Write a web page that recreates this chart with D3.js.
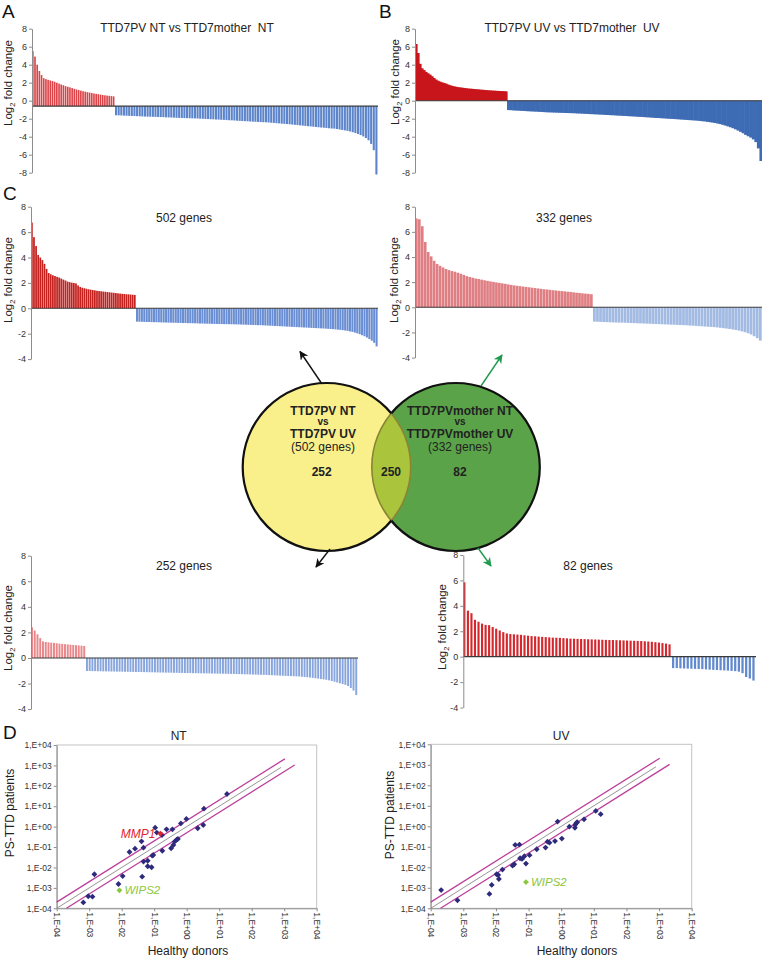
<!DOCTYPE html>
<html><head><meta charset="utf-8">
<script src="https://cdn.jsdelivr.net/npm/d3@7"></script>
<style>
body{margin:0;background:#fff;}
svg{display:block;font-family:"Liberation Sans",Arial,Helvetica,sans-serif;}
</style></head><body>
<svg id="fig" width="762" height="961"></svg>
<script>
// ---------------- DATA ----------------
// Panel A: TTD7PV NT vs TTD7mother NT (log2 fold change, sorted)
const aUp = [5.5,4.9,4.0,3.3,2.85,2.5,2.4,2.32,2.25,2.18,2.1,2.0,1.9,1.8,1.72,1.62,1.55,1.48,1.4,1.32,1.25,1.18,1.12,1.06,1.0,0.95,0.9,0.85,0.8,0.76,0.72,0.68,0.64,0.6,0.57,0.54,0.51,0.48];
const aDown = [-1.62,-1.63,-1.64,-1.66,-1.67,-1.68,-1.7,
 -1.71,-1.72,-1.73,-1.75,-1.76,-1.77,-1.78,-1.79,-1.8,-1.81,-1.82,-1.83,-1.85,
 -1.86,-1.87,-1.88,-1.9,-1.91,-1.92,-1.93,-1.94,-1.95,-1.96,-1.97,-1.98,-2.0,
 -2.01,-2.03,-2.04,-2.06,-2.07,-2.09,-2.1,-2.12,-2.13,-2.15,-2.17,-2.18,
 -2.2,-2.22,-2.24,-2.26,-2.27,-2.29,-2.31,-2.33,-2.34,-2.36,-2.37,-2.39,-2.4,
 -2.42,-2.45,-2.47,-2.5,-2.52,-2.55,-2.57,-2.6,-2.62,-2.65,-2.68,-2.71,-2.74,
 -2.77,-2.8,-2.83,-2.86,-2.89,-2.92,-2.95,-2.98,-3.0,-3.03,-3.06,-3.09,
 -3.1,-3.15,-3.2,-3.25,-3.3,-3.35,-3.42,-3.5,-3.6,-3.7,-3.82,-3.97,-4.15,-4.4,-4.8,-5.5,-8.2];
const aBaseline = -0.6;
// Panel B: TTD7PV UV vs TTD7mother UV
const bUp = [6.3,5.3,4.1,3.6,3.4,3.2,3.05,2.9,2.72,2.52,2.35,2.22,2.12,2.04,1.97,1.9,1.8,1.72,1.65,1.6,1.55,1.51,1.48,1.45,1.42,1.39,1.36,1.34,1.32,1.3,1.28,1.26,1.24,1.22,1.2,1.18,1.16,1.15,1.13,1.12,1.1,1.09,1.08,1.07,1.06,1.04];
const bDown = [-1.04,-1.06,-1.08,-1.1,-1.11,-1.13,-1.14,-1.16,-1.18,-1.19,-1.21,-1.22,-1.24,-1.25,-1.27,-1.29,
 -1.3,-1.31,-1.32,-1.33,-1.34,-1.35,-1.36,-1.37,-1.38,-1.39,-1.4,-1.42,-1.43,
 -1.44,-1.46,-1.47,-1.49,-1.5,-1.52,-1.53,-1.55,-1.56,-1.58,-1.59,-1.61,-1.62,
 -1.64,-1.66,-1.67,-1.69,-1.7,-1.72,-1.74,-1.75,-1.77,-1.79,-1.8,-1.82,-1.84,
 -1.86,-1.88,-1.9,-1.92,-1.93,-1.95,-1.97,-1.99,-2.01,-2.02,-2.04,-2.06,-2.08,
 -2.1,-2.12,-2.14,-2.16,-2.18,-2.2,-2.22,-2.25,-2.28,-2.31,-2.35,-2.39,
 -2.43,-2.48,-2.54,-2.6,-2.68,-2.76,-2.85,-2.95,-3.06,-3.18,-3.32,-3.46,-3.62,-3.8,-3.95,-4.1,-4.3,-4.6,-5.3,-6.7];
// Panel C: 502 genes
const c502Up = [6.75,5.6,4.9,4.2,4.0,3.8,3.5,3.1,2.78,2.68,2.6,2.54,2.48,2.42,2.34,2.26,2.19,2.1,2.06,2.02,1.99,1.96,1.8,1.68,1.62,1.58,1.54,1.5,1.47,1.44,1.41,1.38,1.36,1.34,1.32,1.3,1.28,1.26,1.24,1.22,1.2,1.18,1.16,1.14,1.13,1.11,1.1,1.08,1.07,1.05];
const c502Down = [-1.05,-1.06,-1.06,-1.07,-1.08,-1.08,-1.09,-1.09,-1.1,-1.1,-1.11,-1.12,-1.12,
 -1.13,-1.13,-1.14,-1.14,-1.15,-1.15,-1.16,-1.16,-1.17,-1.17,-1.18,-1.18,-1.19,-1.2,
 -1.2,-1.21,-1.21,-1.22,-1.22,-1.23,-1.23,-1.24,-1.24,-1.25,-1.25,-1.25,-1.26,-1.26,
 -1.27,-1.27,-1.28,-1.29,-1.29,-1.3,-1.31,-1.31,-1.32,-1.33,-1.33,-1.34,-1.35,-1.36,
 -1.37,-1.38,-1.39,-1.4,-1.41,-1.42,-1.43,-1.44,-1.45,-1.46,-1.47,-1.48,-1.49,-1.5,
 -1.51,-1.52,-1.53,-1.54,-1.55,-1.56,-1.57,-1.58,-1.59,-1.6,-1.62,-1.63,-1.64,-1.66,
 -1.68,-1.7,-1.72,-1.75,-1.78,-1.82,-1.86,-1.91,-1.97,-2.04,-2.12,-2.2,-2.3,-2.42,-2.55,-2.72,-3.0];
// Panel C: 332 genes
const c332Up = [7.07,7.0,6.45,5.2,4.4,4.05,3.7,3.45,3.3,3.17,3.05,2.96,2.88,2.83,2.75,2.67,2.58,2.48,2.41,2.35,2.29,2.25,2.2,2.15,2.1,2.06,2.02,1.98,1.94,1.9,1.87,1.82,1.78,1.74,1.71,1.68,1.65,1.62,1.59,1.56,1.53,1.5,1.47,1.44,1.42,1.39,1.36,1.34,1.31,1.29,1.27,1.24,1.22,1.19,1.16,1.14,1.11,1.09,1.07,1.04];
const c332Down = [-1.14,-1.15,-1.16,-1.17,-1.18,-1.19,-1.2,-1.21,-1.22,-1.22,-1.23,
 -1.24,-1.25,-1.26,-1.27,-1.28,-1.29,-1.3,-1.31,-1.32,-1.33,-1.34,
 -1.35,-1.36,-1.37,-1.38,-1.39,-1.4,-1.41,-1.42,-1.43,-1.45,-1.46,
 -1.48,-1.5,-1.51,-1.53,-1.55,-1.56,-1.58,-1.6,-1.63,-1.66,-1.69,
 -1.72,-1.76,-1.8,-1.85,-1.91,-1.98,-2.06,-2.16,-2.3,-2.45,-2.65];
// Panel C: 252 genes
const c252Up = [2.4,2.15,1.85,1.55,1.3,1.25,1.22,1.2,1.18,1.15,1.12,1.1,1.08,1.06,1.04,1.02,1.0,0.98,0.96,0.94];
const c252Down = [-1.02,-1.02,-1.03,-1.03,-1.04,-1.04,-1.05,-1.05,-1.05,-1.06,-1.06,-1.07,-1.07,-1.07,-1.08,-1.08,-1.09,-1.09,
 -1.1,-1.1,-1.1,-1.11,-1.11,-1.12,-1.12,-1.13,-1.13,-1.14,-1.14,-1.15,-1.15,-1.15,-1.16,-1.16,-1.17,-1.17,-1.18,-1.18,-1.18,-1.19,-1.19,-1.2,-1.2,
 -1.2,-1.21,-1.21,-1.22,-1.22,-1.23,-1.23,-1.23,-1.24,-1.24,-1.25,-1.25,
 -1.26,-1.26,-1.27,-1.28,-1.28,-1.29,-1.3,-1.3,-1.31,-1.32,-1.32,-1.33,-1.34,
 -1.35,-1.36,-1.37,-1.38,-1.39,-1.4,-1.41,-1.42,-1.43,-1.44,-1.45,-1.47,
 -1.49,-1.51,-1.53,-1.56,-1.59,-1.62,-1.65,-1.68,-1.71,-1.75,-1.8,-1.86,-1.92,-1.98,-2.04,-2.1,-2.2,-2.35,-2.55,-2.9];
// Panel C: 82 genes
const c82Up = [5.85,3.62,3.42,2.9,2.75,2.6,2.5,2.48,2.33,2.2,2.06,1.93,1.83,1.78,1.76,1.74,1.72,1.68,1.65,1.62,1.6,1.58,1.56,1.54,1.52,1.5,1.49,1.48,1.46,1.44,1.42,1.41,1.4,1.39,1.38,1.37,1.36,1.35,1.34,1.33,1.32,1.31,1.31,1.3,1.29,1.28,1.27,1.26,1.25,1.24,1.23,1.21,1.19,1.17,1.14,1.11,1.07,1.03,0.97];
const c82Down = [-0.9,-0.9,-0.92,-0.93,-0.94,-0.95,-0.96,-0.97,-0.98,-1.0,-1.02,-1.04,-1.05,-1.07,-1.08,-1.1,-1.12,-1.14,-1.18,-1.3,-1.6,-1.72,-1.88];
const barTicksAB = [-8,-6,-4,-2,0,2,4,6,8];
const barTicksC = [-4,-2,0,2,4,6,8];

// Venn
const vennLeftLines = ["TTD7PV NT","vs","TTD7PV UV","(502 genes)"];
const vennRightLines = ["TTD7PVmother NT","vs","TTD7PVmother UV","(332 genes)"];
const vennCounts = ["252","250","82"];

// Panel D scatter (log10 of expression)
const ntHealthyLog = [-3.18,-3.03,-2.90,-2.84,-2.10,-1.97,-1.76,-1.59,-1.39,-1.37,-1.33,-1.33,-1.20,-1.20,-1.08,-1.06,-1.03,-0.97,-0.92,-0.76,-0.75,-0.62,-0.48,-0.44,-0.41,-0.37,-0.31,-0.27,-0.18,-0.01,0.34,0.51,0.53,1.24];
const ntPatientLog = [-3.71,-3.41,-3.43,-2.33,-2.81,-2.42,-1.24,-1.08,-0.72,-2.45,-1.03,-1.71,-1.67,-1.94,-1.99,-1.42,-1.39,-0.05,-0.29,-0.41,-1.18,-0.13,-1.06,-0.13,-0.90,-0.73,-0.64,-0.60,0.16,0.38,-0.08,0.08,0.88,1.60];
const uvHealthyLog = [-3.68,-3.18,-2.20,-2.13,-1.98,-1.93,-1.91,-1.80,-1.49,-1.44,-1.41,-1.28,-1.26,-1.20,-1.13,-1.08,-0.97,-0.75,-0.48,-0.42,-0.36,-0.19,-0.11,0.02,0.25,0.42,0.43,0.46,0.49,0.70,1.06,1.21];
const uvPatientLog = [-3.11,-3.61,-3.30,-2.86,-2.34,-2.37,-2.57,-2.11,-1.92,-1.85,-0.91,-0.89,-1.56,-1.59,-1.46,-1.82,-1.41,-1.12,-1.04,-0.75,-0.80,-0.72,0.23,-0.60,-0.02,-0.07,0.07,0.15,0.20,0.34,0.75,0.59];
const ntHighlights = [{gene:"MMP1", hx:-0.81, py:-0.34, kind:"red"},{gene:"WIPS2", hx:-2.07, py:-3.12, kind:"green"}];
const uvHighlights = [{gene:"WIPS2", hx:-1.08, py:-2.72, kind:"green"}];
const refLines = [{ratio:2, from:1e-4, to:1.05e3, kind:"mag"},{ratio:1, from:1e-4, to:8e2, kind:"grey"},{ratio:0.5, from:2e-4, to:2.1e3, kind:"mag"}];
const scatterTicks = [-4,-3,-2,-1,0,1,2,3,4];

// ---------------- DRAW ----------------
const svg = d3.select("#fig");
const defs = svg.append("defs");
function marker(id, color){
  defs.append("marker").attr("id",id).attr("viewBox","0 0 10 10").attr("refX",9).attr("refY",5)
    .attr("markerWidth",9).attr("markerHeight",9).attr("markerUnits","userSpaceOnUse").attr("orient","auto")
    .append("path").attr("d","M0,0L10,5L0,10L3,5Z").attr("fill",color);
}
marker("arrBlack","#111"); marker("arrGreen","#1f9a4c");

function styleAxis(sel, fs){
  sel.attr("font-family", null).attr("font-size", fs);
  sel.select(".domain").attr("stroke","#8c8c8c");
  sel.selectAll(".tick line").attr("stroke","#8c8c8c");
  sel.selectAll(".tick text").attr("fill","#333");
}
function yLabel(g, x, y, size){
  const t = g.append("text").attr("transform",`translate(${x},${y}) rotate(-90)`)
    .attr("text-anchor","middle").attr("font-size",size).attr("fill","#222");
  t.append("tspan").text("Log");
  t.append("tspan").text("2").attr("font-size",size*0.65).attr("dy",size*0.3);
  t.append("tspan").text(" fold change").attr("dy",-size*0.3);
}

function barPanel(c){
  const g = svg.append("g");
  const y = d3.scaleLinear().domain(c.domain).range(c.yRange);
  const n1 = c.up.length, n2 = c.down.length;
  const x = d3.scaleLinear().domain([0,n1,n1+n2]).range([c.x0,c.xSplit,c.x1]);
  const base = c.base || 0;
  const data = c.up.map((v,i)=>({v,i,col:c.upColor})).concat(c.down.map((v,i)=>({v,i:i+n1,col:c.downColor})));
  g.selectAll("rect.bar").data(data).join("rect").attr("class","bar")
    .attr("x",d=>x(d.i))
    .attr("width",d=>Math.max(0.3, x(d.i+1)-x(d.i)-c.gap))
    .attr("y",d=>Math.min(y(d.v),y(base)))
    .attr("height",d=>Math.abs(y(d.v)-y(base)))
    .attr("fill",d=>d.col);
  g.append("line").attr("x1",c.x0).attr("x2",c.x1).attr("y1",y(base)).attr("y2",y(base))
    .attr("stroke","#3a3a3a").attr("stroke-width",1.1);
  const ax = g.append("g").attr("transform",`translate(${c.x0},0)`)
    .call(d3.axisLeft(y).tickValues(c.ticks).tickSize(3).tickSizeOuter(0).tickPadding(2).tickFormat(d=>String(d)));
  styleAxis(ax, 9);
  yLabel(g, c.labX, c.labY, 11.5);
  g.append("text").attr("x",c.titleX).attr("y",c.titleY).attr("text-anchor","middle")
    .attr("font-size",12).attr("fill","#222").attr("xml:space","preserve").style("white-space","pre").text(c.title);
}

barPanel({up:aUp,down:aDown,base:aBaseline,domain:[-8,8],yRange:[172.7,28.7],x0:32,xSplit:115,x1:378,
  upColor:"#dc4348",downColor:"#5b84cb",gap:0.55,ticks:barTicksAB,labX:12,labY:83,
  title:"TTD7PV NT vs TTD7mother  NT",titleX:187,titleY:32});
barPanel({up:bUp,down:bDown,domain:[-8,8],yRange:[172.7,28.7],x0:415,xSplit:507,x1:762,
  upColor:"#c8141b",downColor:"#3e6cb4",gap:-0.6,ticks:barTicksAB,labX:399,labY:82,
  title:"TTD7PV UV vs TTD7mother  UV",titleX:572,titleY:32});
barPanel({up:c502Up,down:c502Down,domain:[-4,8],yRange:[359.1,206.7],x0:31,xSplit:136,x1:378,
  upColor:"#c4221f",downColor:"#6a8ed3",gap:0.35,ticks:barTicksC,labX:12,labY:280,
  title:"502 genes",titleX:184,titleY:222});
barPanel({up:c332Up,down:c332Down,domain:[-4,8],yRange:[357.6,206.7],x0:415,xSplit:593,x1:762,
  upColor:"#df7f83",downColor:"#a3bbe3",gap:0.3,ticks:barTicksC,labX:398,labY:280,
  title:"332 genes",titleX:564,titleY:222});
barPanel({up:c252Up,down:c252Down,domain:[-4,8],yRange:[709.1,555.7],x0:31,xSplit:86,x1:358,
  upColor:"#e9878a",downColor:"#88a6dd",gap:0.8,ticks:barTicksC,labX:12,labY:628,
  title:"252 genes",titleX:184,titleY:570});
barPanel({up:c82Up,down:c82Down,domain:[-4,8],yRange:[707.5,555],x0:463.3,xSplit:672,x1:756,
  upColor:"#d3282d",downColor:"#6189cd",gap:1.4,ticks:barTicksC,labX:446,labY:627,
  title:"82 genes",titleX:588,titleY:570});

// panel letters
[["A",2,18],["B",379,18],["C",3,200],["D",3,739]].forEach(([t,x,y])=>{
  svg.append("text").attr("x",x).attr("y",y).attr("font-size",19).attr("fill","#111").text(t);
});

// ---------------- VENN ----------------
const venn = svg.append("g");
const L = {cx:326.7, cy:467, r:84}, R = {cx:455.8, cy:467, r:84};
defs.append("clipPath").attr("id","clipR").append("circle").attr("cx",R.cx).attr("cy",R.cy).attr("r",R.r);
defs.append("clipPath").attr("id","clipL").append("circle").attr("cx",L.cx).attr("cy",L.cy).attr("r",L.r);
const mR = defs.append("mask").attr("id","maskOutR").attr("maskUnits","userSpaceOnUse").attr("x",0).attr("y",0).attr("width",762).attr("height",961);
mR.append("rect").attr("width",762).attr("height",961).attr("fill","white");
mR.append("circle").attr("cx",R.cx).attr("cy",R.cy).attr("r",R.r).attr("fill","black");
const mL = defs.append("mask").attr("id","maskOutL").attr("maskUnits","userSpaceOnUse").attr("x",0).attr("y",0).attr("width",762).attr("height",961);
mL.append("rect").attr("width",762).attr("height",961).attr("fill","white");
mL.append("circle").attr("cx",L.cx).attr("cy",L.cy).attr("r",L.r).attr("fill","black");

venn.append("circle").attr("cx",L.cx).attr("cy",L.cy).attr("r",L.r).attr("fill","#f9f08c");
venn.append("circle").attr("cx",R.cx).attr("cy",R.cy).attr("r",R.r).attr("fill","#5aa348");
venn.append("circle").attr("cx",L.cx).attr("cy",L.cy).attr("r",L.r).attr("fill","#aac43c").attr("clip-path","url(#clipR)");
venn.append("circle").attr("cx",L.cx).attr("cy",L.cy).attr("r",L.r).attr("fill","none").attr("stroke","#8a8436").attr("stroke-width",1.6).attr("clip-path","url(#clipR)");
venn.append("circle").attr("cx",R.cx).attr("cy",R.cy).attr("r",R.r).attr("fill","none").attr("stroke","#8a8436").attr("stroke-width",1.6).attr("clip-path","url(#clipL)");
venn.append("circle").attr("cx",L.cx).attr("cy",L.cy).attr("r",L.r).attr("fill","none").attr("stroke","#111").attr("stroke-width",2.2).attr("mask","url(#maskOutR)");
venn.append("circle").attr("cx",R.cx).attr("cy",R.cy).attr("r",R.r).attr("fill","none").attr("stroke","#111").attr("stroke-width",2.2).attr("mask","url(#maskOutL)");

function vennText(lines, cx){
  const ys = [415, 425.3, 438.3, 450.5];
  const fs = [12, 10, 12, 12];
  const fw = ["bold","bold","bold","normal"];
  lines.forEach((t,i)=>{
    venn.append("text").attr("x",cx).attr("y",ys[i]).attr("text-anchor","middle")
      .attr("font-size",fs[i]).attr("font-weight",fw[i]).attr("fill","#222").text(t);
  });
}
vennText(vennLeftLines, 323);
vennText(vennRightLines, 460);
[[321.7,vennCounts[0]],[391,vennCounts[1]],[460,vennCounts[2]]].forEach(([x,t])=>{
  venn.append("text").attr("x",x).attr("y",475.7).attr("text-anchor","middle").attr("font-size",12)
    .attr("font-weight","bold").attr("fill","#222").text(t);
});
// arrows
[[321.7,383.5,300,351.5,"#111","arrBlack"],[481,386,502,355,"#1f9a4c","arrGreen"],
 [330,549,316,567,"#111","arrBlack"],[478,548,491,566,"#1f9a4c","arrGreen"]].forEach(([x1,y1,x2,y2,c,m])=>{
  svg.append("line").attr("x1",x1).attr("y1",y1).attr("x2",x2).attr("y2",y2).attr("stroke",c)
    .attr("stroke-width",1.4).attr("marker-end",`url(#${m})`);
});

// ---------------- SCATTER ----------------
function fmtE(v){
  const e = Math.round(Math.log10(v));
  return "1,E" + (e<0?"-":"+") + String(Math.abs(e)).padStart(2,"0");
}
function scatter(c){
  const g = svg.append("g");
  const x = d3.scaleLog().domain([1e-4,1e4]).range([c.left,c.right]);
  const y = d3.scaleLog().domain([1e-4,1e4]).range([c.bottom,c.top]);
  const tv = scatterTicks.map(e=>Math.pow(10,e));
  g.append("rect").attr("x",c.left).attr("y",c.top).attr("width",c.right-c.left).attr("height",c.bottom-c.top)
    .attr("fill","none").attr("stroke","#c4c4c4").attr("stroke-width",1);
  const ay = g.append("g").attr("transform",`translate(${c.left},0)`)
    .call(d3.axisLeft(y).tickValues(tv).tickSize(3).tickSizeOuter(0).tickPadding(2).tickFormat(fmtE));
  styleAxis(ay, 8.5);
  const axb = g.append("g").attr("transform",`translate(0,${c.bottom})`)
    .call(d3.axisBottom(x).tickValues(tv).tickSize(3).tickSizeOuter(0).tickFormat(fmtE));
  styleAxis(axb, 8.5);
  axb.selectAll(".tick text").attr("transform","rotate(90)").attr("x",4).attr("y",0).attr("dy","0.35em").attr("text-anchor","start");
  // reference lines
  refLines.forEach(l=>{
    g.append("line").attr("x1",x(l.from)).attr("y1",y(l.from*l.ratio)).attr("x2",x(l.to)).attr("y2",y(l.to*l.ratio))
      .attr("stroke", l.kind==="mag" ? "#bb3f9c" : "#8a8a8a").attr("stroke-width", l.kind==="mag"?1.3:0.9);
  });
  const diamond = d3.symbol().type(d3.symbolSquare).size(17);
  c.hx.forEach((hv,i)=>{
    g.append("path").attr("d",diamond()).attr("fill","#2d2a7c")
      .attr("transform",`translate(${x(Math.pow(10,hv))},${y(Math.pow(10,c.py[i]))}) rotate(45)`);
  });
  c.highlights.forEach(h=>{
    const px = x(Math.pow(10,h.hx)), py = y(Math.pow(10,h.py));
    const col = h.kind==="red" ? "#e3242b" : "#8cc63e";
    g.append("path").attr("d",diamond()).attr("fill",col).attr("transform",`translate(${px},${py}) rotate(45)`);
    const t = g.append("text").attr("font-size",h.kind==="red"?12:11.5).attr("font-style","italic").attr("fill",col).text(h.gene);
    if(h.kind==="red") t.attr("x",px-5).attr("y",py+4).attr("text-anchor","end");
    else t.attr("x",px+5).attr("y",py+4);
  });
  g.append("text").attr("x",(c.left+c.right)/2+c.titleDx).attr("y",740).attr("text-anchor","middle").attr("font-size",12).attr("fill","#222").text(c.title);
  g.append("text").attr("transform",`translate(${c.ylabX},${c.ylabY}) rotate(-90)`).attr("text-anchor","middle").attr("font-size",12).attr("fill","#222").text("PS-TTD patients");
  g.append("text").attr("x",c.xlabX).attr("y",955).attr("text-anchor","middle").attr("font-size",12).attr("fill","#222").text("Healthy donors");
}
scatter({left:56.7,right:316.7,top:745,bottom:908.3,hx:ntHealthyLog,py:ntPatientLog,highlights:ntHighlights,
  title:"NT",titleDx:-8,ylabX:14,ylabY:813,xlabX:188});
scatter({left:430.7,right:691.7,top:744.3,bottom:908.3,hx:uvHealthyLog,py:uvPatientLog,highlights:uvHighlights,
  title:"UV",titleDx:0,ylabX:394,ylabY:815,xlabX:577});
</script>
</body></html>
